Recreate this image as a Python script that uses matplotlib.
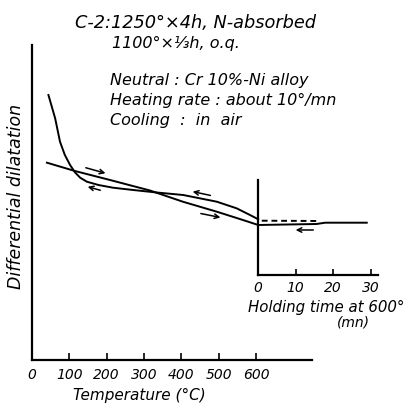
import matplotlib
matplotlib.use("Agg")
import matplotlib.pyplot as plt

# Heating curve (temperature °C, dilatation arbitrary units)
heat_T = [40, 115, 209, 316, 404, 495, 565, 606]
heat_y = [197.3, 189, 180, 169.5, 158.3, 148.3, 140, 135]

# Cooling curve
cool_T = [44, 62, 75, 88, 102, 115, 129, 147, 178, 217, 271, 334, 405, 495, 548, 584, 606]
cool_y = [265, 241.7, 218.3, 205, 195, 187.7, 182.3, 178.3, 175, 172.3, 170, 167.5, 165,
          158.3, 151.7, 145, 140.7]

# Holding at 600°: time (mn)
hold_t = [0, 15.6, 17.9, 29]
hold_y = [135, 136, 137.3, 137.3]
hold_dash_t = [1, 16.5]
hold_dash_y = [139.3, 139.0]

temp_ticks = [0, 100, 200, 300, 400, 500, 600]
time_ticks = [0, 10, 20, 30]

W = H = 408
fig = plt.figure(figsize=(4.08, 4.08), dpi=100)
fs = 10
fkw = dict(style='italic', family='DejaVu Sans')

def fx(px):
    return px / W

def fy(py):
    return 1 - py / H

# main axes
ax = fig.add_axes([fx(32), fy(360), (312 - 32) / W, (360 - 45) / H])
ax.set_xlim(0, 750)
ax.set_ylim(0, 315)
ax.spines['top'].set_visible(False)
ax.spines['right'].set_visible(False)
for s in ['left', 'bottom']:
    ax.spines[s].set_linewidth(1.6)
ax.set_yticks([])
ax.set_xticks(temp_ticks)
ax.set_xticklabels([str(t) for t in temp_ticks], fontsize=fs, **fkw)
ax.tick_params(axis='x', direction='in', length=5, width=1.2, pad=6)
ax.patch.set_alpha(0)

ax.plot(heat_T, heat_y, color='black', lw=1.4)
ax.plot(cool_T, cool_y, color='black', lw=1.4)

def arrow(a, x0, y0, x1, y1):
    a.annotate('', xy=(x1, y1), xytext=(x0, y0),
               arrowprops=dict(arrowstyle='->', color='black', lw=1.1,
                               mutation_scale=8))

arrow(ax, 137, 193, 204, 186)
arrow(ax, 445, 147, 512, 142)
arrow(ax, 190, 169, 142, 174)
arrow(ax, 485, 164, 423, 169)

ax.set_xlabel('Temperature (°C)', fontsize=fs + 1, **fkw)
ax.xaxis.set_label_coords((139 - 32) / (312 - 32), -0.09)
ax.set_ylabel('Differential dilatation', fontsize=fs + 2.5, **fkw)
ax.yaxis.set_label_coords(-0.025, 0.52)

# inset: holding time axes
ax2 = fig.add_axes([fx(258), fy(275), (378 - 258) / W, (275 - 180) / H])
ax2.set_xlim(0, 32)
ax2.set_ylim(85, 180)
ax2.patch.set_alpha(0)
ax2.spines['top'].set_visible(False)
ax2.spines['right'].set_visible(False)
for s in ['left', 'bottom']:
    ax2.spines[s].set_linewidth(1.6)
ax2.set_yticks([])
ax2.set_xticks(time_ticks)
ax2.set_xticklabels([str(t) for t in time_ticks], fontsize=fs, **fkw)
ax2.tick_params(axis='x', direction='in', length=4, width=1.2, pad=4)
ax2.plot(hold_t, hold_y, color='black', lw=1.4, clip_on=False)
ax2.plot(hold_dash_t, hold_dash_y, color='black', lw=1.4, ls=(0, (3, 2)), clip_on=False)
arrow(ax2, 15.5, 130, 9.3, 130)

fig.text(fx(326), fy(307), 'Holding time at 600°', ha='center', va='center',
         fontsize=fs + 0.8, **fkw)
fig.text(fx(353), fy(322), '(mn)', ha='center', va='center', fontsize=fs, **fkw)

# header text
tkw = dict(ha='left', va='center', fontsize=fs + 1.5, **fkw)
fig.text(fx(75), fy(23), 'C-2:1250°×4h, N-absorbed', ha='left', va='center',
         fontsize=fs + 2.8, **fkw)
fig.text(fx(112), fy(43), '1100°×⅓h, o.q.', **tkw)
fig.text(fx(110), fy(80), 'Neutral : Cr 10%-Ni alloy', **tkw)
fig.text(fx(110), fy(100), 'Heating rate : about 10°/mn', **tkw)
fig.text(fx(110), fy(120), 'Cooling  :  in  air', **tkw)

fig.savefig('out.png', dpi=100)
